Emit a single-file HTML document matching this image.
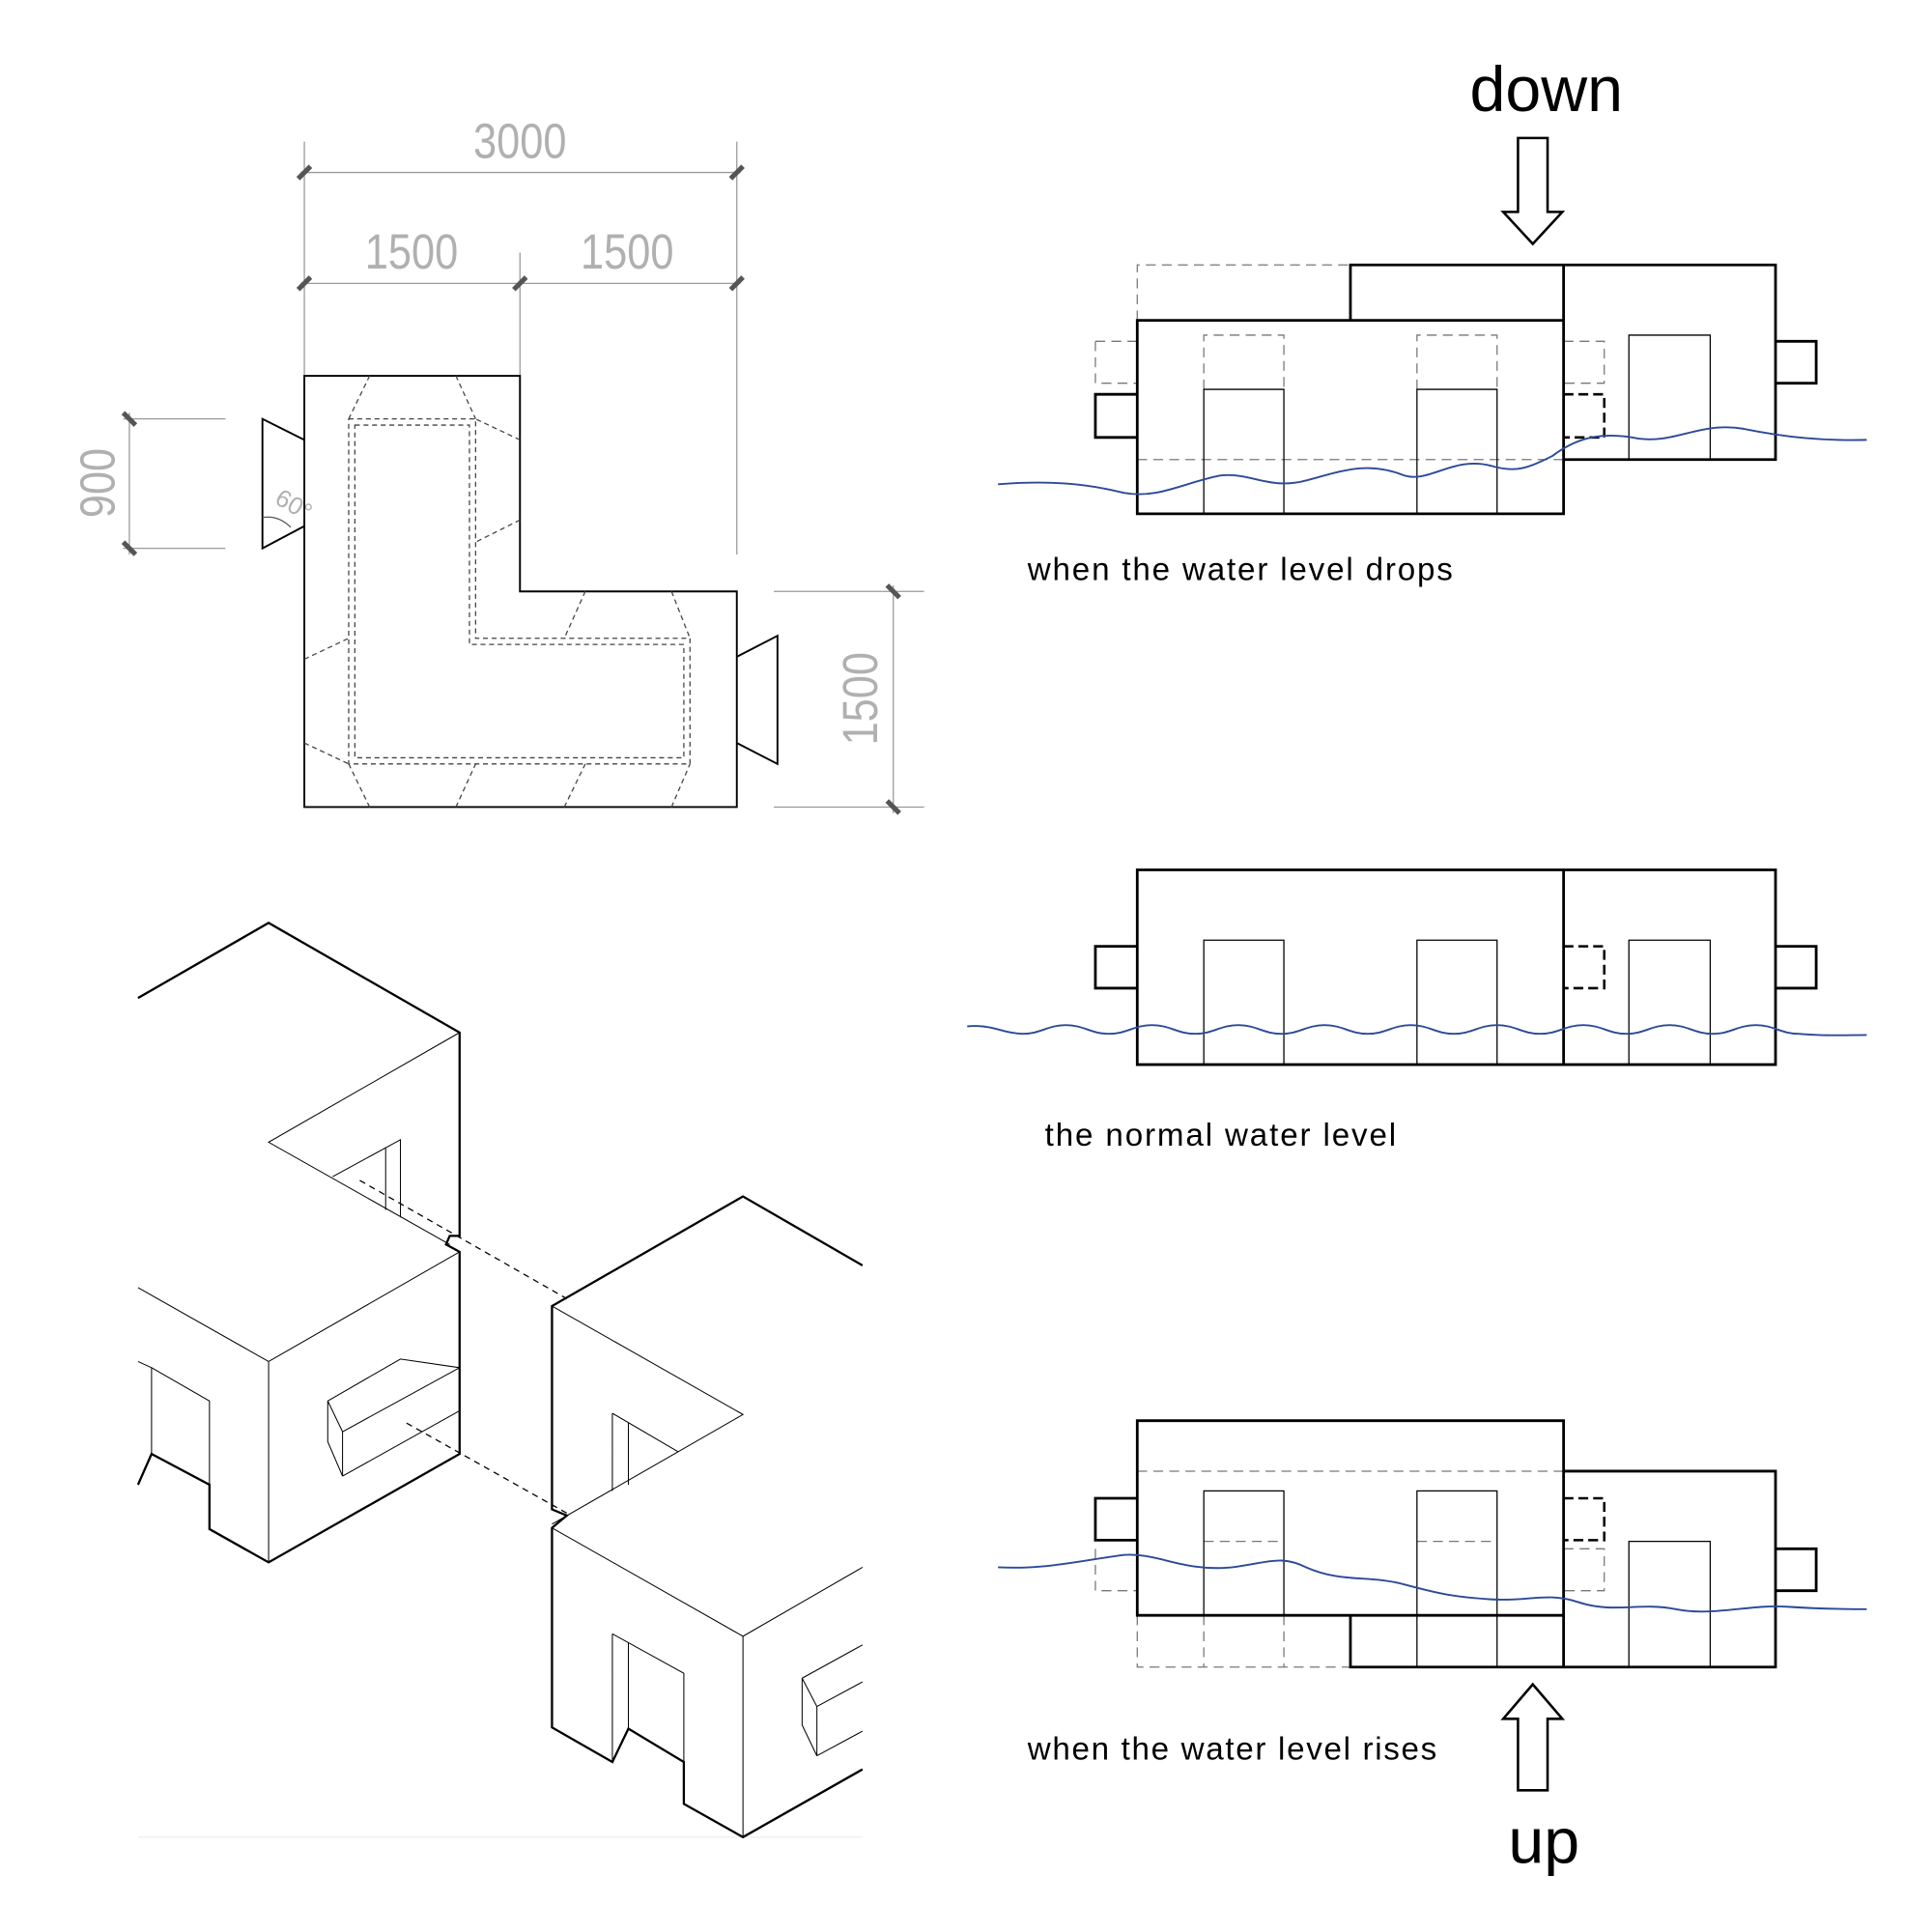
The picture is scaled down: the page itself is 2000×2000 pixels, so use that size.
<!DOCTYPE html>
<html><head><meta charset="utf-8"><style>html,body{margin:0;padding:0;background:#fff}svg{display:block}</style></head>
<body>
<svg width="2000" height="2000" viewBox="0 0 1568 1568" xmlns="http://www.w3.org/2000/svg" font-family="Liberation Sans, sans-serif">
<rect width="1568" height="1568" fill="#fff"/>
<!-- PLAN -->
<g stroke="#999" stroke-width="1" fill="none">
<line x1="247" y1="115" x2="247" y2="305"/><line x1="598" y1="115" x2="598" y2="450"/><line x1="422" y1="205" x2="422" y2="305"/>
<line x1="244" y1="140" x2="601" y2="140"/><line x1="244" y1="230" x2="601" y2="230"/>
<line x1="100" y1="340" x2="183" y2="340"/><line x1="100" y1="445" x2="183" y2="445"/><line x1="105" y1="335" x2="105" y2="450"/>
<line x1="628" y1="480" x2="750" y2="480"/><line x1="628" y1="655" x2="750" y2="655"/><line x1="725" y1="475" x2="725" y2="660"/>
</g>
<g stroke="#555" stroke-width="4">
<line x1="242" y1="145" x2="252" y2="135"/><line x1="593" y1="145" x2="603" y2="135"/>
<line x1="242" y1="235" x2="252" y2="225"/><line x1="417" y1="235" x2="427" y2="225"/><line x1="593" y1="235" x2="603" y2="225"/>
<line x1="100" y1="335" x2="110" y2="345"/><line x1="100" y1="440" x2="110" y2="450"/>
<line x1="720" y1="475" x2="730" y2="485"/><line x1="720" y1="650" x2="730" y2="660"/>
</g>
<g fill="#b0b0b0" font-size="40">
<text x="422" y="128" text-anchor="middle" transform="translate(422,0) scale(0.85,1) translate(-422,0)">3000</text>
<text x="334" y="218" text-anchor="middle" transform="translate(334,0) scale(0.85,1) translate(-334,0)">1500</text>
<text x="509" y="218" text-anchor="middle" transform="translate(509,0) scale(0.85,1) translate(-509,0)">1500</text>
<text transform="translate(93,392) rotate(-90) scale(0.85,1)" text-anchor="middle">900</text>
<text transform="translate(712,567) rotate(-90) scale(0.85,1)" text-anchor="middle">1500</text>
<text transform="translate(222,408) rotate(30)" font-size="20">60°</text>
</g>
<g stroke="#000" stroke-width="1.5" fill="none">
<path d="M247 305H422V480H598V655H247Z"/>
<path d="M247 357L213 340V445L247 427"/>
<path d="M598 533L631 516V620L598 603"/>
</g>
<path d="M213 420 Q226 418 236 428" stroke="#555" fill="none"/>
<g stroke="#444" stroke-width="1" fill="none" stroke-dasharray="4,3">
<path d="M283 340H386V518H560V620H283Z"/>
<path d="M288 345H381V523H555V615H288Z"/>
<path d="M300 305L283 340M370 305L386 340M422 357L386 340M422 422L386 440M475 480L458 518M545 480L560 518M300 655L283 620M370 655L386 620M458 655L475 620M545 655L560 620M247 535L283 518M247 603L283 620"/>
</g>
<!-- ISOMETRIC -->
<line x1="112" y1="1491" x2="700" y2="1491" stroke="#eee"/>
<g stroke="#000" fill="none" stroke-width="1.8">
<path d="M112 810L218 749L373 838V1003H365L362 1010L373 1016V1180L218 1268L170 1241V1205L123 1180L112 1205"/>
<path d="M700 1027L603 971L448 1060V1225L460 1230L448 1240V1402L497 1430L510 1403L555 1430V1464L603 1491L700 1436"/>
</g>
<g stroke="#000" fill="none" stroke-width="0.8">
<path d="M373 838L218 927L365 1010"/>
<path d="M270 955L325 925V988M313 932V982"/>
<path d="M373 1016L218 1105L112 1045M218 1105V1268"/>
<path d="M112 1105L123 1110V1180M123 1110L170 1137V1205"/>
<path d="M266 1137L325 1103L373 1110M278 1162L373 1110M266 1137L278 1162V1198L266 1170ZM278 1198L373 1145"/>
<path d="M448 1060L603 1148L448 1237M497 1147V1210M510 1155V1205M497 1147L550 1178"/>
<path d="M448 1240L603 1328L700 1272M603 1328V1491"/>
<path d="M497 1326V1430M510 1333V1403M497 1326L555 1358V1430"/>
<path d="M651 1362L700 1335M651 1362L663 1385V1425L651 1400ZM663 1385L700 1365M663 1425L700 1405"/>
</g>
<g stroke="#000" stroke-dasharray="5,4" stroke-width="1">
<line x1="292" y1="958" x2="460" y2="1054"/><line x1="330" y1="1155" x2="460" y2="1228"/>
</g>
<!-- ELEVATIONS -->
<g font-size="52" text-anchor="middle"><text x="1255" y="90">down</text><text x="1253" y="1512">up</text></g>
<g stroke="#000" stroke-width="2" fill="#fff">
<path d="M1232 112H1256V172H1268L1244 198L1220 172H1232Z"/>
<path d="M1232 1453H1256V1395H1268L1244 1367L1220 1395H1232Z"/>
</g>
<g font-size="26"><text x="834" y="471" textLength="345">when the water level drops</text><text x="848" y="930" textLength="285">the normal water level</text><text x="834" y="1428" textLength="332">when the water level rises</text></g>
<!-- top elevation -->
<g fill="none">
<path d="M923 260V215H1096M889 277H923M889 277V311H923M1269 277H1302V311H1269M977 316V272H1042V316M1150 316V272H1215V316M923 373H1269" stroke="#777" stroke-dasharray="8,5"/>
<path d="M1269 320H1302V355H1269" stroke="#000" stroke-width="2" stroke-dasharray="8,4"/>
<path d="M923 260H1269V417H923ZM1096 260V215H1441V373H1269M1269 215V260M923 320H889V355H923M1441 277H1474V311H1441" stroke="#000" stroke-width="2.2"/>
<path d="M977 417V316H1042V417M1150 417V316H1215V417M1322 373V272H1388V373" stroke="#000"/>
<path d="M810 393C850 390 880 392 912 400C940 405 960 392 990 386C1015 383 1030 398 1060 390C1090 382 1110 374 1140 386C1160 392 1180 370 1210 378C1230 384 1240 380 1260 370C1280 355 1300 350 1330 356C1360 360 1380 342 1415 348C1450 355 1480 358 1515 357" stroke="#2c4a9a" stroke-width="1.5"/>
</g>
<!-- middle -->
<g fill="none">
<path d="M1269 768H1302V802H1269" stroke="#000" stroke-width="2" stroke-dasharray="8,4"/>
<path d="M923 706H1441V864H923ZM1269 706V864M923 768H889V802H923M1441 768H1474V802H1441" stroke="#000" stroke-width="2.2"/>
<path d="M977 864V763H1042V864M1150 864V763H1215V864M1322 864V763H1388V864" stroke="#000"/>
<path d="M785 833C805 831 815 839 830 839C845 839 850 832 865 832C880 832 885 839 900 839C915 839 920 832 935 832C950 832 955 839 970 839C985 839 990 832 1005 832C1020 832 1025 839 1040 839C1055 839 1060 832 1075 832C1090 832 1095 839 1110 839C1125 839 1130 832 1145 832C1160 832 1165 839 1180 839C1195 839 1200 832 1215 832C1230 832 1235 839 1250 839C1265 839 1270 832 1285 832C1300 832 1305 839 1320 839C1335 839 1340 832 1355 832C1370 832 1375 839 1390 839C1405 839 1410 832 1425 832C1440 832 1445 839 1460 839C1480 841 1500 840 1515 840" stroke="#2c4a9a" stroke-width="1.5"/>
</g>
<!-- bottom -->
<g fill="none">
<path d="M923 1311V1353H1096M889 1257V1291H923M1269 1257H1302V1291H1269M923 1194H1269M977 1251H1042M1150 1251H1215M977 1311V1353M1042 1311V1353" stroke="#777" stroke-dasharray="8,5"/>
<path d="M1269 1216H1302V1250H1269" stroke="#000" stroke-width="2" stroke-dasharray="8,4"/>
<path d="M923 1153H1269V1311H923ZM1096 1311V1353H1441V1194H1269M1269 1311V1353M923 1216H889V1250H923M1441 1257H1474V1291H1441" stroke="#000" stroke-width="2.2"/>
<path d="M977 1311V1210H1042V1311M1150 1353V1210H1215V1353M1322 1353V1251H1388V1353" stroke="#000"/>
<path d="M810 1272C850 1274 880 1266 912 1262C940 1260 960 1276 1000 1272C1030 1268 1040 1262 1060 1272C1090 1285 1110 1278 1140 1286C1170 1294 1180 1296 1210 1298C1240 1300 1255 1292 1280 1300C1310 1310 1330 1300 1360 1306C1390 1312 1420 1302 1450 1304C1480 1306 1500 1306 1515 1306" stroke="#2c4a9a" stroke-width="1.5"/>
</g>
</svg>
</body></html>
